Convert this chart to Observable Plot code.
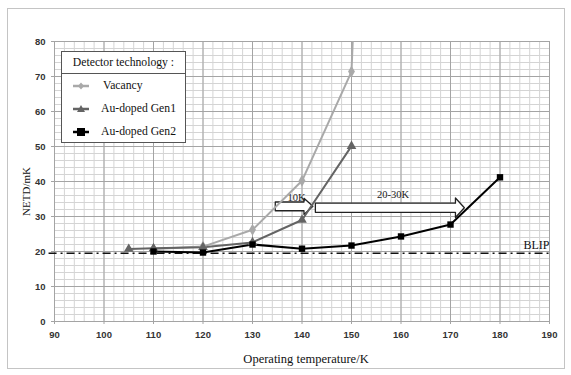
<!DOCTYPE html>
<html><head><meta charset="utf-8">
<script src="https://cdn.jsdelivr.net/npm/d3@7"></script>
<script src="https://cdn.jsdelivr.net/npm/@observablehq/plot@0.6"></script>
<style>
body{margin:0;background:#fff;}
#wrap{position:relative;width:571px;height:375px;overflow:hidden}
#chart{position:absolute;left:0;top:0}
#border{position:absolute;left:7px;top:8px;width:558px;height:361px;border:1px solid #c4c4c4;box-sizing:border-box;pointer-events:none}
#legend{position:absolute;left:61px;top:51px;width:125px;height:92px;border:1px solid #555;background:#fff;box-sizing:border-box;font-family:"Liberation Serif","Times New Roman",serif;font-size:11.7px;color:#111;margin:0;padding:0}
</style></head>
<body>
<div id="wrap">
<div id="chart"></div>
<div id="border"></div>
<div id="legend"></div>
</div>
<script>
// ---- data ----
const seriesNames = ["Vacancy", "Au-doped Gen1", "Au-doped Gen2"];
const legendTitle = "Detector technology :";
const vacancyT = [110, 120, 130, 140, 150, 150.3];
const vacancyN = [20.7, 21.4, 26.2, 40.2, 71.4, 82];
const gen1T = [105, 110, 120, 130, 140, 150];
const gen1N = [20.7, 20.9, 21.2, 22.6, 29.0, 50.1];
const gen2T = [110, 120, 130, 140, 150, 160, 170, 180];
const gen2N = [20.0, 19.7, 22.0, 20.8, 21.7, 24.3, 27.7, 41.2];
const xTicks = [90, 100, 110, 120, 130, 140, 150, 160, 170, 180, 190];
const yTicks = [0, 10, 20, 30, 40, 50, 60, 70, 80];
const blipValue = 19.5;
const blipLabel = "BLIP";
const arrowLabels = ["10K", "20-30K"];
const arrowStart = [134.6, 142.7];
const arrowEnd = [142.2, 172.8];
const arrowLevel = [32.9, 32.5];

// ---- styles ----
const colors = ["#a9a9a9", "#646464", "#000000"];
const symbols = ["diamond", "triangle", "square"];

const toRows = (T, N, s) => T.map((t, i) => ({t, n: N[i], s}));
const rows = [
  ...toRows(vacancyT, vacancyN, seriesNames[0]),
  ...toRows(gen1T, gen1N, seriesNames[1]),
  ...toRows(gen2T, gen2N, seriesNames[2])
];

// arrow polygons built from arrow data (shape in data units)
const arrowPolys = [];
arrowLabels.forEach((lab, k) => {
  const x1 = arrowStart[k], x2 = arrowEnd[k], y = arrowLevel[k];
  const h = k === 0 ? 1.25 : 1.3, H = k === 0 ? 2.3 : 2.8, L = 1.8;
  const pts = [[x1, y + h], [x2 - L, y + h], [x2 - L, y + H], [x2, y], [x2 - L, y - H], [x2 - L, y - h], [x1, y - h], [x1, y + h]];
  pts.forEach(p => arrowPolys.push({x: p[0], y: p[1], k}));
});
const arrowText = arrowLabels.map((l, k) => ({l, x: k === 0 ? 138.9 : 158.4, y: k === 0 ? 35.4 : 36.3}));

const minorX = d3.range(90, 190.01, 2);
const minorY = d3.range(0, 80.01, 2);

const tickFont = {fontWeight: "bold", fontFamily: "Liberation Sans, Arial, sans-serif", fontSize: 9.5, fill: "#333", stroke: "#a4a4a4"};

const plot = Plot.plot({
  width: 571, height: 375,
  marginLeft: 54, marginRight: 22, marginTop: 41, marginBottom: 54,
  x: {domain: [90, 190]},
  y: {domain: [0, 80]},
  style: {background: "transparent"},
  marks: [
    Plot.ruleX(minorX, {stroke: "#d4d4d4", strokeWidth: 1}),
    Plot.ruleY(minorY, {stroke: "#d4d4d4", strokeWidth: 1}),
    Plot.ruleX(xTicks, {stroke: "#a4a4a4", strokeWidth: 1}),
    Plot.ruleY(yTicks, {stroke: "#a4a4a4", strokeWidth: 1}),
    Plot.axisX({ticks: xTicks, tickSize: 3, tickPadding: 7, label: null, ...tickFont}),
    Plot.axisY({ticks: yTicks, tickSize: 3, tickPadding: 6, label: null, ...tickFont}),
    Plot.ruleY([blipValue], {x1: 88.9, x2: 190, stroke: "#111", strokeWidth: 1.6, strokeDasharray: "8,4,2,4", clip: false}),
    Plot.text([blipLabel], {x: 190, y: 21.9, text: d => d, textAnchor: "end", fontFamily: "Liberation Serif, serif", fontSize: 12, fill: "#111"}),
    Plot.line(arrowPolys, {x: "x", y: "y", z: "k", stroke: "#222", strokeWidth: 1.3, fill: "white", curve: "linear"}),
    Plot.text(arrowText, {x: "x", y: "y", text: "l", fontFamily: "Liberation Serif, serif", fontSize: 10.5, fill: "#222"}),
    Plot.line(rows, {x: "t", y: "n", z: "s", stroke: "s", strokeWidth: 2, clip: true}),
    Plot.dot(rows.filter(d => d.n <= 80), {x: "t", y: "n", fill: "s", symbol: "s", r: 3.6, stroke: "none"}),
    Plot.text(["Operating temperature/K"], {frameAnchor: "bottom", dy: 37, dx: 4, lineAnchor: "middle", textAnchor: "middle", text: d => d, fontFamily: "Liberation Serif, serif", fontSize: 12.5, fill: "#111"}),
    Plot.text(["NETD/mK"], {frameAnchor: "left", dx: -28, dy: 10, rotate: -90, textAnchor: "middle", lineAnchor: "middle", text: d => d, fontFamily: "Liberation Serif, serif", fontSize: 11, fill: "#111"})
  ],
  color: {domain: seriesNames, range: colors},
  symbol: {domain: seriesNames, range: symbols}
});
document.getElementById("chart").appendChild(plot);

// legend (absolute positions inside the legend box)
const leg = document.getElementById("legend");
const symPaths = {
  diamond: '<path d="M10,4.5 L13,8 L10,11.5 L7,8 Z"/>',
  triangle: '<path d="M10,4 L14,11 L6,11 Z"/>',
  square: '<rect x="6" y="4" width="8" height="8"/>'
};
let html = `<div style="position:absolute;left:0;top:0;width:123px;height:21px;border-bottom:1px solid #555;text-align:center;line-height:21px;white-space:nowrap">${legendTitle}</div>`;
seriesNames.forEach((name, i) => {
  const top = 26 + i * 23;
  html += `<svg style="position:absolute;left:9px;top:${top}px" width="20" height="16" fill="${colors[i]}"><line x1="2" x2="18" y1="8" y2="8" stroke="${colors[i]}" stroke-width="2.5"/>${symPaths[symbols[i]]}</svg>`;
  html += `<div style="position:absolute;left:${i === 0 ? 41 : 39}px;top:${top}px;line-height:16px;white-space:nowrap">${name}</div>`;
});
leg.innerHTML = html;
</script>
</body></html>
